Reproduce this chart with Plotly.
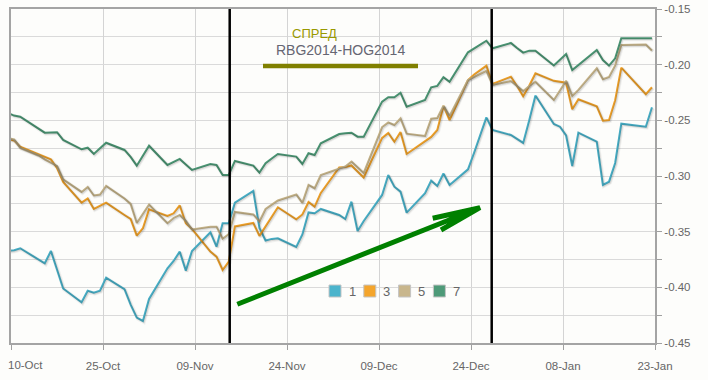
import plotly.graph_objects as go
import pandas as pd

# ---------------- data ----------------
dates = [
    "2013-10-09", "2013-10-10", "2013-10-11", "2013-10-14", "2013-10-15", "2013-10-16", "2013-10-17", "2013-10-18",
    "2013-10-21", "2013-10-22", "2013-10-23", "2013-10-24", "2013-10-25", "2013-10-28", "2013-10-29", "2013-10-30",
    "2013-10-31", "2013-11-01", "2013-11-04", "2013-11-05", "2013-11-06", "2013-11-07", "2013-11-08", "2013-11-11",
    "2013-11-12", "2013-11-13", "2013-11-14", "2013-11-15", "2013-11-18", "2013-11-19", "2013-11-20", "2013-11-21",
    "2013-11-22", "2013-11-25", "2013-11-26", "2013-11-27", "2013-11-28", "2013-11-29", "2013-12-02", "2013-12-03",
    "2013-12-04", "2013-12-05", "2013-12-06", "2013-12-09", "2013-12-10", "2013-12-11", "2013-12-12", "2013-12-13",
    "2013-12-16", "2013-12-17", "2013-12-18", "2013-12-19", "2013-12-20", "2013-12-23", "2013-12-24", "2013-12-25",
    "2013-12-26", "2013-12-27", "2013-12-30", "2013-12-31", "2014-01-01", "2014-01-02", "2014-01-03", "2014-01-06",
    "2014-01-07", "2014-01-08", "2014-01-09", "2014-01-10", "2014-01-13", "2014-01-14", "2014-01-15", "2014-01-16",
    "2014-01-17", "2014-01-21", "2014-01-22",
]

spread_1 = [
    -0.3673, -0.3667, -0.3649, -0.3749, -0.3784, -0.3673, -0.3844, -0.4010,
    -0.4134, -0.4031, -0.4048, -0.4030, -0.3913, -0.4017, -0.4155, -0.4272,
    -0.4302, -0.4104, -0.3829, -0.3763, -0.3679, -0.3850, -0.3673, -0.3505,
    -0.3635, -0.3424, -0.3424, -0.3239, -0.3134, -0.3467, -0.3579, -0.3565,
    -0.3559, -0.3637, -0.3525, -0.3327, -0.3335, -0.3296, -0.3350, -0.3386,
    -0.3230, -0.3494, -0.3404, -0.3170, -0.2991, -0.3096, -0.3141, -0.3329,
    -0.3155, -0.3042, -0.3089, -0.2977, -0.3080, -0.2940, -0.2791, -0.2631,
    -0.2473, -0.2587, -0.2631, -0.2667, -0.2703, -0.2497, -0.2277, -0.2533,
    -0.2557, -0.2636, -0.2910, -0.2611, -0.2692, -0.3080, -0.3051, -0.2883,
    -0.2530, -0.2557, -0.2383,
]

spread_3 = [
    -0.2667, -0.2681, -0.2737, -0.2802, -0.2825, -0.2851, -0.2928, -0.3054,
    -0.3239, -0.3202, -0.3296, -0.3269, -0.3239, -0.3350, -0.3386, -0.3536,
    -0.3469, -0.3299, -0.3359, -0.3335, -0.3263, -0.3424, -0.3476, -0.3679,
    -0.3724, -0.3844, -0.3769, -0.3453, -0.3422, -0.3538, -0.3451, -0.3363,
    -0.3281, -0.3389, -0.3345, -0.3233, -0.3275, -0.3152, -0.2923, -0.2919,
    -0.2905, -0.2959, -0.3013, -0.2658, -0.2614, -0.2692, -0.2605, -0.2802,
    -0.2685, -0.2649, -0.2587, -0.2371, -0.2497, -0.2138, -0.2088, -0.2048,
    -0.2009, -0.2174, -0.2108, -0.2191, -0.2284, -0.2187, -0.2077, -0.2145,
    -0.2156, -0.2162, -0.2401, -0.2311, -0.2374, -0.2503, -0.2497, -0.2320,
    -0.2027, -0.2265, -0.2203,
]

spread_5 = [
    -0.2658, -0.2672, -0.2748, -0.2816, -0.2851, -0.2878, -0.2910, -0.3031,
    -0.3143, -0.3098, -0.3175, -0.3166, -0.3089, -0.3202, -0.3251, -0.3422,
    -0.3341, -0.3256, -0.3424, -0.3377, -0.3350, -0.3404, -0.3480, -0.3455,
    -0.3455, -0.3564, -0.3521, -0.3323, -0.3345, -0.3408, -0.3296, -0.3256,
    -0.3220, -0.3166, -0.3242, -0.3080, -0.3110, -0.2991, -0.2928, -0.2914,
    -0.2871, -0.2923, -0.2973, -0.2560, -0.2519, -0.2542, -0.2482, -0.2620,
    -0.2640, -0.2486, -0.2479, -0.2369, -0.2461, -0.2138, -0.2111, -0.2084,
    -0.2055, -0.2182, -0.2147, -0.2191, -0.2236, -0.2191, -0.2153, -0.2317,
    -0.2227, -0.2144, -0.2281, -0.2227, -0.2033, -0.2131, -0.2111, -0.2007,
    -0.1823, -0.1819, -0.1873,
]

spread_7 = [
    -0.2434, -0.2457, -0.2467, -0.2579, -0.2611, -0.2609, -0.2607, -0.2676,
    -0.2760, -0.2746, -0.2802, -0.2751, -0.2701, -0.2766, -0.2829, -0.2907,
    -0.2811, -0.2728, -0.2901, -0.2874, -0.2847, -0.2896, -0.2946, -0.2892,
    -0.2901, -0.2991, -0.2991, -0.2865, -0.2907, -0.2970, -0.2886, -0.2843,
    -0.2802, -0.2826, -0.2892, -0.2796, -0.2811, -0.2706, -0.2623, -0.2616,
    -0.2611, -0.2647, -0.2647, -0.2332, -0.2293, -0.2293, -0.2252, -0.2377,
    -0.2317, -0.2203, -0.2191, -0.2113, -0.2153, -0.1889, -0.1853, -0.1823,
    -0.1785, -0.1853, -0.1805, -0.1850, -0.1892, -0.1874, -0.1874, -0.2007,
    -0.1958, -0.1904, -0.2048, -0.2003, -0.1868, -0.1958, -0.2009, -0.1943,
    -0.1763, -0.1763, -0.1763,
]

series_names = ["1", "3", "5", "7"]
series_colors = ["#4bb4cc", "#f4a52c", "#c8b68c", "#4e9a78"]

x_tick_dates = ["2013-10-10", "2013-10-25", "2013-11-09", "2013-11-24",
                "2013-12-09", "2013-12-24", "2014-01-08", "2014-01-23"]
x_tick_labels = ["10-Oct", "25-Oct", "09-Nov", "24-Nov", "09-Dec", "24-Dec", "08-Jan", "23-Jan"]
y_tick_vals = [-0.45, -0.40, -0.35, -0.30, -0.25, -0.20, -0.15]
y_tick_labels = ["-0.45", "-0.40", "-0.35", "-0.30", "-0.25", "-0.20", "-0.15"]
y_minor_vals = [-0.425, -0.375, -0.325, -0.275, -0.225, -0.175]

title_top = "СПРЕД"
title_pair = "RBG2014-HOG2014"

# ---------------- figure ----------------
W, H = 708, 380
ML, MR, MT, MB = 11, 53, 9, 37
PW, PH = W - ML - MR, H - MT - MB
FONT = "Liberation Sans, Arial, sans-serif"
X_RANGE = [pd.Timestamp("2013-10-10"), pd.Timestamp("2014-01-23")]
Y_RANGE = [-0.45, -0.15]


def fx(px):
    return (px - ML) / PW


def fy(py):
    return (H - MB - py) / PH


# settlement timestamps (end of trading day)
xs = pd.to_datetime(pd.Series(dates)) + pd.Timedelta(hours=12)
all_series = [spread_1, spread_3, spread_5, spread_7]

fig = go.Figure()

# soft drop shadows: same data on an overlay axis pair shifted by ~1px right/down
for vals in all_series:
    for w, a in ((4, 0.05), (2, 0.10)):
        fig.add_trace(go.Scatter(
            x=xs, y=vals, mode="lines", xaxis="x2", yaxis="y2",
            line=dict(color=f"rgba(0,0,0,{a})", width=w),
            showlegend=False, hoverinfo="skip",
        ))

for name, vals, col in zip(series_names, all_series, series_colors):
    fig.add_trace(go.Scatter(
        x=xs, y=vals, mode="lines", name=name,
        line=dict(color=col, width=2), showlegend=False,
        hoverinfo="x+y+name",
    ))

shapes = []
# two vertical black marker lines
for px in (229.7, 491.7):
    shapes.append(dict(type="line", xref="paper", yref="paper",
                       x0=fx(px), x1=fx(px), y0=0, y1=1,
                       line=dict(color="#000000", width=2.5)))
# olive underline of the title
shapes.append(dict(type="line", xref="paper", yref="paper",
                   x0=fx(263), x1=fx(418), y0=fy(66), y1=fy(66),
                   line=dict(color="#808000", width=4.5)))
# green trend arrow
tip = (fx(480), fy(207.7))
arrow_path = (f"M {fx(237.3)},{fy(304.3)} L {tip[0]},{tip[1]} "
              f"M {fx(432.7)},{fy(218.3)} L {tip[0]},{tip[1]} L {fx(441)},{fy(230)}")
shapes.append(dict(type="path", xref="paper", yref="paper", path=arrow_path,
                   line=dict(color="#008000", width=5)))

annotations = [
    dict(text=title_top, xref="paper", yref="paper", x=fx(314), y=fy(33),
         xanchor="center", yanchor="middle", showarrow=False,
         font=dict(family=FONT, size=13, color="#999900")),
    dict(text=title_pair, xref="paper", yref="paper", x=fx(340.3), y=fy(50),
         xanchor="center", yanchor="middle", showarrow=False,
         font=dict(family=FONT, size=14, color="#666672")),
    # first x tick label, nudged inside like the original
    dict(text=x_tick_labels[0], xref="paper", yref="paper", x=fx(25), y=fy(364.5),
         xanchor="center", yanchor="middle", showarrow=False,
         font=dict(family=FONT, size=11.5, color="#666666")),
]

# legend drawn as coloured boxes + labels
leg_y = 291
for i, (name, col) in enumerate(zip(series_names, series_colors)):
    cx = 335 + 34.8 * i
    shapes.append(dict(type="rect", xref="paper", yref="paper",
                       x0=fx(cx - 6), x1=fx(cx + 6), y0=fy(leg_y + 6), y1=fy(leg_y - 6),
                       fillcolor=col, line=dict(color="#c4c4c4", width=1)))
    annotations.append(dict(text=name, xref="paper", yref="paper", x=fx(cx + 17), y=fy(leg_y),
                            xanchor="center", yanchor="middle", showarrow=False,
                            font=dict(family=FONT, size=13, color="#666666")))

# one pixel expressed in axis units, for the shadow overlay axes
px_t = (X_RANGE[1] - X_RANGE[0]) / PW
px_v = (Y_RANGE[1] - Y_RANGE[0]) / PH

fig.update_layout(
    width=W, height=H, autosize=False,
    margin=dict(l=ML, r=MR, t=MT, b=MB, pad=0),
    paper_bgcolor="#fdfdfb", plot_bgcolor="#fdfdfb",
    showlegend=False,
    shapes=shapes, annotations=annotations,
    font=dict(family=FONT, size=11.5, color="#666666"),
    xaxis=dict(
        type="date", range=X_RANGE, automargin=False,
        tickmode="array", tickvals=x_tick_dates, ticktext=[""] + x_tick_labels[1:],
        showgrid=True, gridcolor="#d4d4d4", gridwidth=1,
        ticks="outside", ticklen=5, tickcolor="#a0a0a0", tickwidth=1,
        ticklabelstandoff=6,
        showline=True, linecolor="#a4a4a4", linewidth=2, mirror=True,
        zeroline=False, tickfont=dict(family=FONT, size=11.5, color="#666666"),
    ),
    yaxis=dict(
        side="right", range=Y_RANGE, automargin=False,
        tickmode="array", tickvals=y_tick_vals, ticktext=y_tick_labels,
        showgrid=True, gridcolor="#dadada", gridwidth=1,
        ticks="outside", ticklen=5, tickcolor="#a0a0a0", tickwidth=1,
        minor=dict(tickvals=y_minor_vals, ticks="outside", ticklen=5, tickcolor="#a0a0a0",
                   showgrid=True, gridcolor="#dadada", gridwidth=1),
        showline=True, linecolor="#a4a4a4", linewidth=2, mirror=True,
        zeroline=False, tickfont=dict(family=FONT, size=11.5, color="#666666"),
    ),
    xaxis2=dict(type="date", overlaying="x", visible=False,
                range=[X_RANGE[0] - px_t, X_RANGE[1] - px_t]),
    yaxis2=dict(overlaying="y", visible=False,
                range=[Y_RANGE[0] + px_v, Y_RANGE[1] + px_v]),
)

fig.write_html(
    "out.html",
    config={"displayModeBar": False},
    post_script="document.body.style.margin='0';document.body.style.overflow='hidden';",
)
